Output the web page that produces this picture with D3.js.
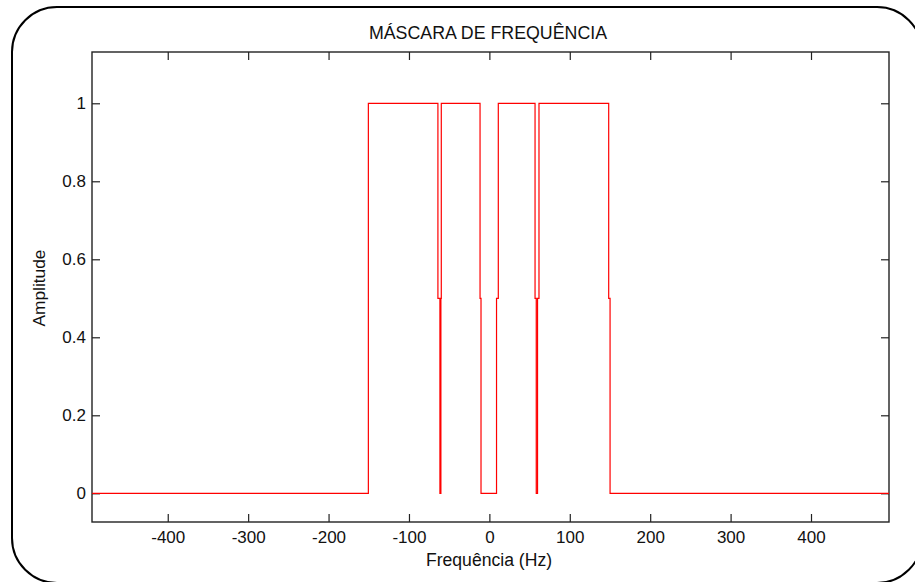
<!DOCTYPE html>
<html>
<head>
<meta charset="utf-8">
<script src="https://cdn.jsdelivr.net/npm/d3@7"></script>
<style>
  html, body { margin: 0; padding: 0; background: #fff; }
  svg { display: block; font-family: "Liberation Sans", Arial, sans-serif; }
</style>
</head>
<body>
<svg id="chart" width="915" height="582"></svg>
<script>
// Frequency mask: breakpoints (Hz) and the amplitude held from each one onward
const maskFreqs = [-494, -150.5, -64, -61.5, -60.3, -59.8, -11.6, -10.4, 8.9, 11.1, 56.8, 58.3, 59.9, 61.7, 148.4, 150.1, 497];
const maskAmps  = [0,    1,      0.5, 0,     0.5,   1,     0.5,   0,     0.5, 1,    0.5,  0,    0.5,  1,    0.5,   0,     0];

const xTicks = [-400, -300, -200, -100, 0, 100, 200, 300, 400];
const yTicks = [0, 0.2, 0.4, 0.6, 0.8, 1];
const xDomain = [-494.2, 497];
const yDomain = [-0.0736, 1.1315];

const titleText = "MÁSCARA DE FREQUÊNCIA";
const xLabelText = "Frequência (Hz)";
const yLabelText = "Amplitude";

const svg = d3.select("#chart");
const plot = { left: 92, right: 889, top: 52, bottom: 522 };

// rounded outer frame
svg.append("rect")
  .attr("x", 12).attr("y", 7)
  .attr("width", 910).attr("height", 576)
  .attr("rx", 45).attr("ry", 45)
  .attr("fill", "#fff")
  .attr("stroke", "#000")
  .attr("stroke-width", 2);

const x = d3.scaleLinear().domain(xDomain).range([plot.left, plot.right]);
const y = d3.scaleLinear().domain(yDomain).range([plot.bottom, plot.top]);

const data = maskFreqs.map((f, i) => ({ f, a: maskAmps[i] }));

svg.append("clipPath").attr("id", "plotClip")
  .append("rect")
  .attr("x", plot.left).attr("y", plot.top)
  .attr("width", plot.right - plot.left).attr("height", plot.bottom - plot.top);

// axes with inward ticks on all four sides
const tickLen = 8;
const fontSize = 17;
const plainNum = d => String(d);   // keep ASCII hyphen for negatives

function styleAxis(g) {
  g.select(".domain").remove();
  g.selectAll(".tick line").attr("stroke", "#222").attr("stroke-width", 1.2);
  g.selectAll(".tick text")
    .attr("fill", "#111")
    .style("font-size", fontSize + "px")
    .style("font-family", "'Liberation Sans', Arial, sans-serif");
}

svg.append("g")
  .attr("transform", `translate(0,${plot.bottom})`)
  .call(d3.axisBottom(x).tickValues(xTicks).tickSize(-tickLen).tickPadding(9).tickFormat(plainNum))
  .call(styleAxis);

svg.append("g")
  .attr("transform", `translate(0,${plot.top})`)
  .call(d3.axisTop(x).tickValues(xTicks).tickSize(-tickLen).tickFormat(""))
  .call(styleAxis);

svg.append("g")
  .attr("transform", `translate(${plot.left},0)`)
  .call(d3.axisLeft(y).tickValues(yTicks).tickSize(-tickLen).tickPadding(6).tickFormat(plainNum))
  .call(styleAxis);

svg.append("g")
  .attr("transform", `translate(${plot.right},0)`)
  .call(d3.axisRight(y).tickValues(yTicks).tickSize(-tickLen).tickFormat(""))
  .call(styleAxis);

// plot box
svg.append("rect")
  .attr("x", plot.left).attr("y", plot.top)
  .attr("width", plot.right - plot.left).attr("height", plot.bottom - plot.top)
  .attr("fill", "none")
  .attr("stroke", "#222")
  .attr("stroke-width", 1.4);

// mask trace, drawn over the ticks
const line = d3.line()
  .x(d => x(d.f))
  .y(d => y(d.a))
  .curve(d3.curveStepAfter);

svg.append("path")
  .datum(data)
  .attr("clip-path", "url(#plotClip)")
  .attr("fill", "none")
  .attr("stroke", "#ff0000")
  .attr("stroke-width", 1.2)
  .attr("d", line);

// labels
svg.append("text")
  .attr("x", 488)
  .attr("y", 38.5)
  .attr("text-anchor", "middle")
  .attr("fill", "#111")
  .style("font-size", "17.8px")
  .text(titleText);

svg.append("text")
  .attr("x", 489)
  .attr("y", 566)
  .attr("text-anchor", "middle")
  .attr("fill", "#111")
  .style("font-size", "17.6px")
  .text(xLabelText);

svg.append("text")
  .attr("transform", `translate(45,${(plot.top + plot.bottom) / 2 + 1}) rotate(-90)`)
  .attr("text-anchor", "middle")
  .attr("fill", "#111")
  .style("font-size", "17.3px")
  .text(yLabelText);
</script>
</body>
</html>
